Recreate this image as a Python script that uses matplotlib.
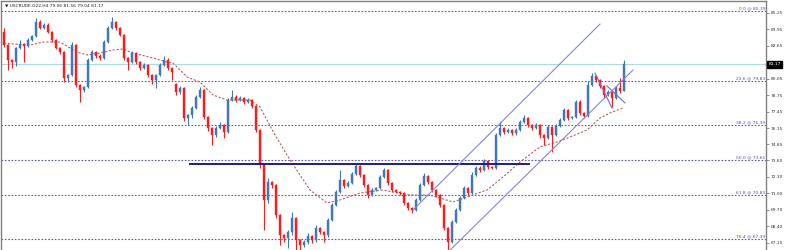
import matplotlib
matplotlib.use("Agg")
import matplotlib.pyplot as plt
from matplotlib.patches import Rectangle

# ---------------- data ----------------
title = "\u25bc USCRUDE.G22,H4 79.06 81.56 79.04 81.17"

first_open = 83.73
closes = [82.70, 81.52, 81.36, 82.47, 82.78, 82.63, 83.10, 83.42, 84.52, 84.05,
          84.28, 83.73, 83.10, 82.47, 82.15, 80.10, 80.34, 82.70, 79.55, 79.15,
          79.39, 81.52, 82.15, 81.84, 81.68, 82.94, 84.05, 84.52, 84.05, 83.49,
          81.68, 81.36, 82.07, 81.36, 80.89, 81.13, 80.34, 79.94, 80.34, 81.13,
          81.52, 80.89, 80.57, 78.99, 79.31, 76.94, 77.18, 77.73, 78.60, 79.15,
          77.02, 76.15, 75.60, 76.15, 76.39, 75.84, 78.36, 78.60, 78.36, 78.53,
          78.21, 78.36, 77.89, 75.99, 73.23, 70.47, 71.89, 71.65, 69.28, 67.70,
          67.47, 67.94, 69.05, 67.31, 66.92, 67.15, 67.63, 67.31, 68.26, 67.94,
          67.70, 68.89, 70.07, 71.10, 72.05, 71.57, 71.81, 72.52, 73.15, 72.44,
          71.65, 70.86, 71.26, 71.42, 72.28, 72.84, 71.81, 71.26, 71.10, 71.02,
          70.23, 69.84, 69.68, 70.47, 71.65, 72.36, 71.89, 71.26, 70.86, 70.07,
          68.26, 67.15, 68.73, 69.68, 70.63, 71.42, 71.02, 72.44, 72.99, 72.84,
          73.55, 73.07, 72.99, 75.60, 76.15, 75.84, 75.99, 75.76, 75.99, 76.63,
          76.94, 76.39, 76.15, 76.39, 75.60, 75.36, 76.23, 75.60, 76.31, 76.78,
          77.57, 76.94, 77.02, 78.21, 77.34, 77.10, 79.55, 80.26, 79.94, 79.47,
          78.76, 78.99, 78.53, 79.31, 79.07, 81.17]

# opens that differ from the previous close (gaps)
gap_opens = {43: 79.62, 155: 79.06}

# wick lengths beyond the body (price units)
upper_wick = [0.30, 0.10, 0.10, 0.10, 0.30, 0.10, 0.15, 0.10, 0.30, 0.15,
              0.15, 0.15, 0.10, 0.10, 0.10, 0.10, 0.10, 0.25, 0.10, 0.10,
              0.10, 0.15, 0.15, 0.10, 0.15, 0.15, 0.15, 0.40, 0.10, 0.10,
              0.10, 0.10, 0.20, 0.10, 0.10, 0.15, 0.10, 0.10, 0.10, 0.15,
              0.30, 0.15, 0.10, 0.10, 0.15, 0.10, 0.10, 0.15, 0.15, 0.25,
              0.10, 0.10, 0.10, 0.15, 0.20, 0.10, 0.20, 0.55, 0.15, 0.15,
              0.10, 0.15, 0.10, 0.10, 0.10, 0.10, 0.30, 0.10, 0.10, 0.10,
              0.10, 0.15, 0.50, 0.10, 0.10, 0.15, 0.20, 0.10, 0.20, 0.10,
              0.10, 0.15, 0.15, 0.15, 0.80, 0.10, 0.15, 0.15, 0.15, 0.10,
              0.10, 0.10, 0.15, 0.10, 0.15, 0.15, 0.10, 0.10, 0.10, 0.10,
              0.10, 0.10, 0.10, 0.15, 0.15, 0.25, 0.10, 0.10, 0.10, 0.10,
              0.10, 0.10, 0.15, 0.15, 0.15, 0.15, 0.10, 0.20, 0.15, 0.15,
              0.15, 0.10, 0.10, 0.15, 0.55, 0.10, 0.15, 0.10, 0.15, 0.15,
              0.20, 0.10, 0.10, 0.15, 0.10, 0.10, 0.15, 0.10, 0.15, 0.15,
              0.20, 0.10, 0.10, 0.15, 0.15, 0.10, 0.30, 0.25, 0.10, 0.10,
              0.10, 0.15, 0.10, 0.15, 0.80, 0.39]
lower_wick = [0.15, 0.80, 0.50, 0.30, 0.10, 1.26, 0.10, 0.10, 0.10, 0.10,
              0.10, 0.10, 0.15, 0.10, 0.15, 0.30, 0.30, 0.10, 0.15, 0.95,
              0.15, 0.10, 0.10, 0.15, 0.15, 0.10, 0.10, 0.10, 0.15, 0.10,
              0.15, 0.60, 0.10, 0.15, 0.15, 0.10, 0.15, 0.30, 0.60, 0.10,
              0.10, 0.15, 0.60, 0.20, 0.15, 0.20, 0.55, 0.20, 0.10, 0.10,
              0.15, 0.20, 0.80, 0.15, 0.10, 0.50, 0.10, 0.10, 0.15, 0.10,
              0.15, 0.10, 0.15, 0.15, 0.20, 2.40, 0.20, 0.20, 0.20, 0.80,
              0.30, 0.80, 0.20, 0.95, 0.55, 0.20, 0.15, 0.20, 0.15, 0.15,
              0.55, 0.15, 0.10, 0.10, 0.10, 0.15, 0.10, 0.10, 0.10, 0.15,
              0.15, 0.25, 0.10, 0.10, 0.10, 0.10, 0.15, 0.15, 0.10, 0.15,
              0.15, 0.15, 0.20, 0.10, 0.10, 0.10, 0.15, 0.15, 0.15, 0.15,
              0.20, 0.60, 0.10, 0.10, 0.10, 0.10, 0.15, 0.10, 0.10, 0.15,
              0.10, 0.15, 0.10, 0.10, 0.10, 0.15, 0.10, 0.15, 0.15, 0.10,
              0.10, 0.15, 0.15, 0.10, 0.20, 0.55, 0.10, 1.35, 0.10, 0.10,
              0.10, 0.15, 0.10, 0.10, 0.15, 0.15, 0.10, 0.10, 0.15, 0.15,
              0.20, 0.10, 0.70, 0.10, 0.15, 0.02]

# moving average (sampled along the chart): bar index, price
ma_idx = [-1, 6.5, 9.75, 14, 18.25, 20.75, 24, 27.25, 29.75, 32.25, 37.25, 40.75,
          42.25, 45.75, 49, 52.25, 55.75, 61.5, 64, 67.75, 71.5, 76.5, 80.75, 84,
          89, 94.75, 101.5, 106.5, 112.25, 115.75, 120.75, 124.75, 129, 134, 139,
          145.75, 149, 151.5, 154.75]
ma_val = [82.86, 82.70, 82.94, 82.94, 82.15, 81.92, 82.07, 82.31, 82.39, 82.07,
          81.68, 81.36, 81.28, 80.18, 79.78, 78.76, 78.36, 78.36, 77.81, 75.60,
          73.63, 71.26, 70.23, 70.47, 71.02, 71.26, 70.86, 70.86, 70.31, 70.70,
          71.26, 72.28, 73.47, 74.66, 75.12, 75.99, 76.94, 77.34, 77.73]

# Fibonacci retracement levels
fib_pct = ["0.0", "23.6", "38.2", "50.0", "61.8", "76.4"]
fib_price = [85.39, 79.83, 76.39, 73.61, 70.83, 67.39]

# price axis
tick_vals = [85.25, 83.95, 82.65, 81.35, 80.05, 78.75, 77.45, 76.15, 74.85,
             73.60, 72.30, 71.00, 69.70, 68.40, 67.10]
last_price = 81.17

# drawn objects (bar index, price)
support_line = ([46.5, 131.25], [73.29, 73.29])
channel_upper = ([102.25, 149.0], [69.68, 84.36])
channel_lower = ([109.0, 157.25], [65.73, 80.73])
flag_a = ([147.75, 152.0], [80.49, 77.73])
flag_b = ([150.75, 155.25], [79.47, 78.13])

# ---------------- plot ----------------
W, H = 789, 250
FS = 3.2
fig = plt.figure(figsize=(W / 100, H / 100), dpi=100)
ax = fig.add_axes([1 / W, 0, 765 / W, 249 / H])
ax.set_xlim(-0.75, 190.5)
ax.set_ylim(66.52, 86.18)

up_col = "#3f77b8"
dn_col = "#ff1a1a"

opens = []
prev = first_open
for i, c in enumerate(closes):
    o = gap_opens.get(i, prev)
    opens.append(o)
    prev = c

for i, (o, c) in enumerate(zip(opens, closes)):
    col = up_col if c >= o else dn_col
    top, bot = max(o, c), min(o, c)
    ax.vlines(i, bot - lower_wick[i], top + upper_wick[i], color=col, lw=0.8, zorder=3)
    h = max(top - bot, 0.03)
    ax.add_patch(Rectangle((i - 0.3, bot), 0.6, h, facecolor=col, edgecolor=col,
                           lw=0.3, zorder=4))

# moving average
ax.plot(ma_idx, ma_val, color="#b86060", lw=0.8, ls=(0, (2, 1.5)), zorder=2)

# fib levels
for pct, p in zip(fib_pct, fib_price):
    ax.axhline(p, color="#5a5ab8", lw=0.8, ls=(0, (1.5, 1.5)), zorder=1)
    ax.text(190.3, p + 0.06, f"{pct} @ {p:.2f}", ha="right", va="bottom",
            fontsize=FS, color="#5050b0", zorder=5)

# current price line
ax.axhline(last_price, color="#a8dcec", lw=0.8, zorder=1)

# drawn lines
ax.plot(*support_line, color="#1c1c96", lw=1.4, zorder=5)
for ln in (channel_upper, channel_lower):
    ax.plot(*ln, color="#8585dc", lw=0.8, zorder=5)
for ln in (flag_a, flag_b):
    ax.plot(*ln, color="#7070c8", lw=0.8, zorder=5)

# title
ax.text(0.3, 85.95, title, ha="left", va="top", fontsize=FS, color="#222222", zorder=6)

# axes styling
for s in ("left", "top", "right"):
    ax.spines[s].set_color("#808080")
    ax.spines[s].set_linewidth(1.0)
ax.spines["bottom"].set_visible(False)
ax.set_xticks([])
ax.yaxis.tick_right()
ax.set_yticks(tick_vals)
ax.set_yticklabels([f"{v:.2f}" for v in tick_vals])
ax.tick_params(axis="y", direction="out", length=2.0, width=0.6, colors="#808080",
               labelsize=FS, labelcolor="#333333", pad=1.5)

# last price label
ax.text(1.003, last_price, f"{last_price:.2f}", transform=ax.get_yaxis_transform(),
        ha="left", va="center", fontsize=FS, color="white", zorder=7,
        bbox=dict(boxstyle="square,pad=0.25", facecolor="black", edgecolor="black"),
        clip_on=False)

fig.savefig("out.png", dpi=100)
